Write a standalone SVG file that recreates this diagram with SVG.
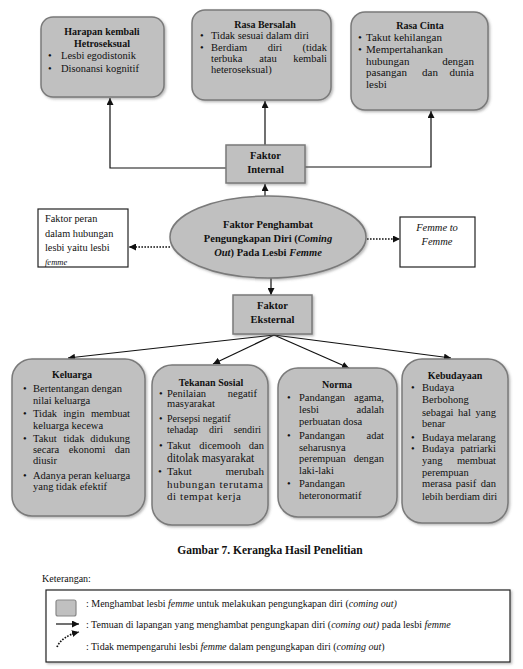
<svg xmlns="http://www.w3.org/2000/svg" width="523" height="669" viewBox="0 0 523 669">
<defs>
<style>
.box{fill:#c0c0c0;stroke:#7a7a7a;stroke-width:1.5}
.wbox{fill:#fff;stroke:#222;stroke-width:1.2}
.t{font-family:"Liberation Serif","Times New Roman",serif;font-size:10.5px;fill:#111}
.b{font-weight:bold;font-size:10px}
.c{text-anchor:middle}
.e{text-anchor:end}
.i{font-style:italic}
.conn{stroke:#111;stroke-width:1.2;fill:none}
.dot{stroke-dasharray:1.6 1.4;stroke-width:1.7}
</style>
<marker id="ah" viewBox="0 0 10 10" refX="10" refY="5" markerWidth="7" markerHeight="7" markerUnits="userSpaceOnUse" orient="auto"><path d="M0,0 L10,5 L0,10 z" fill="#111"/></marker>
<filter id="sh" x="-10%" y="-10%" width="125%" height="125%"><feDropShadow dx="1.5" dy="1.5" stdDeviation="1" flood-color="#666" flood-opacity="0.45"/></filter>
</defs>
<rect width="523" height="669" fill="#fff"/>

<g id="connectors">
<path class="conn" d="M226,168 H110 V98" marker-end="url(#ah)"/>
<path class="conn" d="M305,167 H431 V111" marker-end="url(#ah)"/>
<path class="conn" d="M265,145 V101" marker-end="url(#ah)"/>
<path class="conn" d="M265,196 V184" marker-end="url(#ah)"/>
<path class="conn" d="M271,278 V295" marker-end="url(#ah)"/>
<path class="conn dot" d="M170,247 H129" marker-end="url(#ah)"/>
<path class="conn dot" d="M367,239 H400" marker-end="url(#ah)"/>
<path class="conn" d="M274,335 L68,358" marker-end="url(#ah)"/>
<path class="conn" d="M274,335 L213,364" marker-end="url(#ah)"/>
<path class="conn" d="M274,335 L349,368" marker-end="url(#ah)"/>
<path class="conn" d="M274,335 L451,358" marker-end="url(#ah)"/>
</g>

<g id="harapan">
<rect class="box" filter="url(#sh)" x="41" y="17" width="123" height="80" rx="12"/>
<text class="t b c" x="102" y="35">Harapan kembali</text>
<text class="t b c" x="102" y="47">Hetroseksual</text>
<text class="t" x="48" y="59">•</text><text class="t" x="61" y="59">Lesbi egodistonik</text>
<text class="t" x="48" y="71.5">•</text><text class="t" x="61" y="71.5">Disonansi kognitif</text>
</g>

<g id="bersalah">
<rect class="box" filter="url(#sh)" x="192" y="10" width="139" height="90" rx="13"/>
<text class="t b c" x="265" y="28">Rasa Bersalah</text>
<text class="t" x="200" y="39">•</text><text class="t" x="211" y="39">Tidak sesuai dalam diri</text>
<text class="t" x="200" y="51">•</text><text class="t" x="211" y="51">Berdiam</text><text class="t c" x="275" y="51">diri</text><text class="t e" x="327" y="51">(tidak</text>
<text class="t" x="211" y="62">terbuka</text><text class="t c" x="268" y="62">atau</text><text class="t e" x="327" y="62">kembali</text>
<text class="t" x="211" y="73">heteroseksual)</text>
</g>

<g id="cinta">
<rect class="box" filter="url(#sh)" x="351" y="12" width="137" height="98" rx="14"/>
<text class="t b c" x="420" y="29">Rasa Cinta</text>
<text class="t" x="358" y="41" style="font-size:11px">•</text><text class="t" x="366" y="41" style="font-size:11px">Takut kehilangan</text>
<text class="t" x="358" y="53" style="font-size:11px">•</text><text class="t" x="366" y="53" style="font-size:11px">Mempertahankan</text>
<text class="t" x="366" y="64.5" style="font-size:11px">hubungan</text><text class="t e" x="474" y="64.5" style="font-size:11px">dengan</text>
<text class="t" x="366" y="76" style="font-size:11px">pasangan</text><text class="t c" x="430" y="76" style="font-size:11px">dan</text><text class="t e" x="474" y="76" style="font-size:11px">dunia</text>
<text class="t" x="366" y="88" style="font-size:11px">lesbi</text>
</g>

<g id="internal">
<rect class="box" filter="url(#sh)" x="226" y="145" width="79" height="38"/>
<text class="t b c" x="265.5" y="159" style="font-size:10.5px">Faktor</text>
<text class="t b c" x="265.5" y="173" style="font-size:10.5px">Internal</text>
</g>

<g id="penghambat">
<ellipse class="box" filter="url(#sh)" cx="268" cy="237" rx="98" ry="41"/>
<text class="t b c" x="268" y="228" style="font-size:10.5px">Faktor Penghambat</text>
<text class="t b c" x="268" y="242" style="font-size:10.5px">Pengungkapan Diri (<tspan class="i">Coming</tspan></text>
<text class="t b c" x="268" y="256" style="font-size:10.5px"><tspan class="i">Out</tspan>) Pada Lesbi <tspan class="i">Femme</tspan></text>
</g>

<g id="peran">
<rect class="wbox" x="38" y="209" width="90" height="58"/>
<text class="t" x="45" y="222" style="font-size:10.3px">Faktor peran</text>
<text class="t" x="45" y="237" style="font-size:10.3px">dalam hubungan</text>
<text class="t" x="45" y="251" style="font-size:10.3px">lesbi yaitu lesbi</text>
<text class="t i" x="45" y="264.5" style="font-size:8.5px">femme</text>
</g>

<g id="femme">
<rect class="wbox" x="400" y="217" width="75" height="50"/>
<text class="t i c" x="437" y="231">Femme to</text>
<text class="t i c" x="437" y="245">Femme</text>
</g>

<g id="eksternal">
<rect class="box" filter="url(#sh)" x="233" y="295" width="79" height="39"/>
<text class="t b c" x="272.5" y="309" style="font-size:10.5px">Faktor</text>
<text class="t b c" x="272.5" y="323" style="font-size:10.5px">Eksternal</text>
</g>

<g id="keluarga">
<rect class="box" filter="url(#sh)" x="12" y="359" width="133" height="157" rx="20"/>
<text class="t b c" x="72" y="378">Keluarga</text>
<text class="t" x="23" y="392">•</text><text class="t" x="33" y="392">Bertentangan dengan</text>
<text class="t" x="33" y="404">nilai keluarga</text>
<text class="t" x="23" y="417">•</text><text class="t" x="33" y="417">Tidak</text><text class="t c" x="74" y="417">ingin</text><text class="t e" x="130" y="417">membuat</text>
<text class="t" x="33" y="428.5">keluarga kecewa</text>
<text class="t" x="23" y="442">•</text><text class="t" x="33" y="442">Takut</text><text class="t c" x="74" y="442">tidak</text><text class="t e" x="130" y="442">didukung</text>
<text class="t" x="33" y="453">secara</text><text class="t c" x="87" y="453">ekonomi</text><text class="t e" x="130" y="453">dan</text>
<text class="t" x="33" y="463.5">diusir</text>
<text class="t" x="23" y="478.5">•</text><text class="t" x="33" y="478.5">Adanya peran keluarga</text>
<text class="t" x="33" y="490">yang tidak efektif</text>
</g>

<g id="tekanan">
<rect class="box" filter="url(#sh)" x="152" y="365" width="116" height="160" rx="20"/>
<text class="t b c" x="211" y="385.5">Tekanan Sosial</text>
<text class="t" x="159" y="396.5">•</text><text class="t" x="167" y="396.5">Penilaian</text><text class="t e" x="257" y="396.5">negatif</text>
<text class="t" x="167" y="406.5">masyarakat</text>
<text class="t" x="159" y="422" style="font-size:10px">•</text><text class="t" x="167" y="422" style="font-size:10px">Persepsi negatif</text>
<text class="t" x="167" y="432.5" style="font-size:10px">tehadap</text><text class="t c" x="216" y="432.5" style="font-size:10px">diri</text><text class="t e" x="261" y="432.5" style="font-size:10px">sendiri</text>
<text class="t" x="159" y="448.5">•</text><text class="t" x="167" y="448.5">Takut</text><text class="t c" x="220" y="448.5">dicemooh</text><text class="t e" x="264" y="448.5">dan</text>
<text class="t" x="167" y="461.5" style="font-size:11.5px">ditolak masyarakat</text>
<text class="t" x="158" y="475" style="font-size:11px">•</text><text class="t" x="167" y="475" style="font-size:11px">Takut</text><text class="t e" x="264" y="475" style="font-size:11px">merubah</text>
<text class="t" x="167" y="487.5" style="font-size:11px" textLength="96">hubungan terutama</text>
<text class="t" x="167" y="500" style="font-size:11px" textLength="74">di tempat kerja</text>
</g>

<g id="norma">
<rect class="box" filter="url(#sh)" x="278" y="368" width="119" height="149" rx="20"/>
<text class="t b c" x="337" y="387.5">Norma</text>
<text class="t" x="287" y="400.5">•</text><text class="t" x="299" y="400.5">Pandangan</text><text class="t e" x="384" y="400.5">agama,</text>
<text class="t" x="299" y="412.5">lesbi</text><text class="t e" x="384" y="412.5">adalah</text>
<text class="t" x="299" y="424.5">perbuatan dosa</text>
<text class="t" x="287" y="438.5">•</text><text class="t" x="299" y="438.5">Pandangan</text><text class="t e" x="384" y="438.5">adat</text>
<text class="t" x="299" y="450.5">seharusnya</text>
<text class="t" x="299" y="461.5">perempuan</text><text class="t e" x="384" y="461.5">dengan</text>
<text class="t" x="299" y="473.5">laki-laki</text>
<text class="t" x="287" y="486.5">•</text><text class="t" x="299" y="486.5">Pandangan</text>
<text class="t" x="299" y="498.5">heteronormatif</text>
</g>

<g id="kebudayaan">
<rect class="box" filter="url(#sh)" x="402" y="359" width="106" height="164" rx="20"/>
<text class="t b c" x="455" y="378.5">Kebudayaan</text>
<text class="t" x="411" y="390.5">•</text><text class="t" x="422" y="390.5">Budaya</text>
<text class="t" x="422" y="402.5">Berbohong</text>
<text class="t" x="422" y="415.5">sebagai</text><text class="t c" x="464.5" y="415.5">hal</text><text class="t e" x="496" y="415.5">yang</text>
<text class="t" x="422" y="426.5">benar</text>
<text class="t" x="411" y="440.5">•</text><text class="t" x="422" y="440.5">Budaya melarang</text>
<text class="t" x="411" y="451.5">•</text><text class="t" x="422" y="451.5">Budaya</text><text class="t e" x="496" y="451.5">patriarki</text>
<text class="t" x="422" y="463.5">yang</text><text class="t e" x="496" y="463.5">membuat</text>
<text class="t" x="422" y="475.5">perempuan</text>
<text class="t" x="422" y="486.5">merasa</text><text class="t c" x="466" y="486.5">pasif</text><text class="t e" x="496" y="486.5">dan</text>
<text class="t" x="422" y="500">lebih berdiam diri</text>
</g>

<g id="caption">
<text class="t c" x="270" y="554" style="font-weight:bold;font-size:11.5px">Gambar 7. Kerangka Hasil Penelitian</text>
<text class="t" x="42" y="582" style="font-size:10px">Keterangan:</text>
</g>

<g id="legend">
<rect x="46" y="590" width="464" height="72" fill="#fff" stroke="#222" stroke-width="1.2" filter="url(#sh)"/>
<rect x="56" y="600" width="20" height="16" rx="2" fill="#c0c0c0" stroke="#888" stroke-width="1.2"/>
<path class="conn" d="M56,624 H79" marker-end="url(#ah)"/>
<path class="conn dot" d="M57,647 Q62,636 79,632" marker-end="url(#ah)"/>
<text class="t" x="86" y="607" style="font-size:10px">: Menghambat lesbi <tspan class="i">femme</tspan> untuk melakukan pengungkapan diri (<tspan class="i">coming out)</tspan></text>
<text class="t" x="86" y="628" style="font-size:10px">: Temuan di lapangan yang menghambat pengungkapan diri (<tspan class="i">coming out)</tspan> pada lesbi <tspan class="i">femme</tspan></text>
<text class="t" x="86" y="650" style="font-size:10px">: Tidak mempengaruhi lesbi <tspan class="i">femme</tspan> dalam pengungkapan diri (<tspan class="i">coming out</tspan>)</text>
</g>
</svg>
